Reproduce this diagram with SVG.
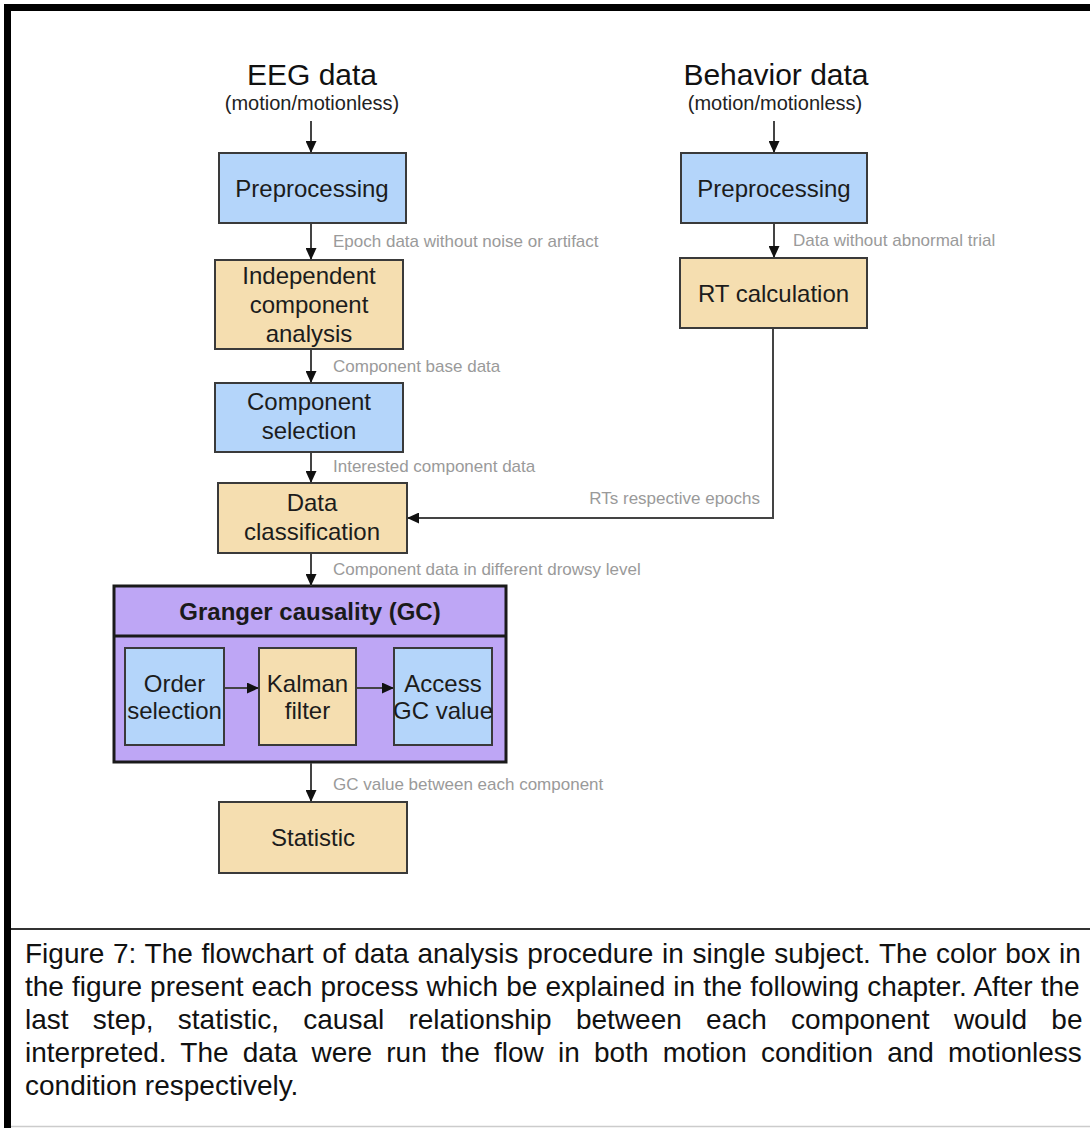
<svg xmlns="http://www.w3.org/2000/svg" width="1090" height="1128" viewBox="0 0 1090 1128">
<style>
text{font-family:"Liberation Sans",Arial,Helvetica,sans-serif}
.box{stroke:#3a3a3a;stroke-width:2}
.blue{fill:#b4d5fa}
.tan{fill:#f5deb0}
.t{font-size:24px;fill:#1c1c1c;text-anchor:middle}
.lbl{font-size:17px;fill:#9a9a9a}
.title{font-size:30px;fill:#111;text-anchor:middle}
.sub{font-size:20px;fill:#222;text-anchor:middle}
.edge{stroke:#444;stroke-width:2;fill:none}
.cap{font-size:28px;fill:#111}
</style>
<defs>
<marker id="ah" viewBox="0 0 12 11" refX="12" refY="5.5" markerWidth="12" markerHeight="11" markerUnits="userSpaceOnUse" orient="auto"><path d="M0,0 L12,5.5 L0,11 z" fill="#111"/></marker>
</defs>
<rect x="0" y="0" width="1090" height="1128" fill="#fff"/>
<!-- frame -->
<rect x="7.5" y="7.5" width="1120" height="1150" fill="none" stroke="#000" stroke-width="7"/>
<line x1="11" y1="929" x2="1090" y2="929" stroke="#333" stroke-width="2"/>
<line x1="11" y1="1126.5" x2="1090" y2="1126.5" stroke="#ccc" stroke-width="1.5"/>

<g id="eeg-title">
<text class="title" x="312" y="85">EEG data</text>
<text class="sub" x="312" y="110">(motion/motionless)</text>
</g>
<g id="behavior-title">
<text class="title" x="776" y="85">Behavior data</text>
<text class="sub" x="775" y="110">(motion/motionless)</text>
</g>

<g id="preprocessing-eeg">
<rect class="box blue" x="219" y="153" width="187" height="70"/>
<text class="t" x="312" y="196.5">Preprocessing</text>
</g>
<g id="ica">
<rect class="box tan" x="215" y="260" width="188" height="89"/>
<text class="t" x="309" y="283.5">Independent</text>
<text class="t" x="309" y="312.5">component</text>
<text class="t" x="309" y="341.5">analysis</text>
</g>
<g id="component-selection">
<rect class="box blue" x="215" y="383" width="188" height="69"/>
<text class="t" x="309" y="410">Component</text>
<text class="t" x="309" y="439">selection</text>
</g>
<g id="data-classification">
<rect class="box tan" x="218" y="483" width="189" height="70"/>
<text class="t" x="312" y="511">Data</text>
<text class="t" x="312" y="540">classification</text>
</g>
<g id="granger-causality">
<rect x="114" y="586" width="392" height="176" fill="#bea6f5" stroke="#1a1a1a" stroke-width="3"/>
<line x1="114" y1="636" x2="506" y2="636" stroke="#1a1a1a" stroke-width="3"/>
<text x="310" y="619.5" text-anchor="middle" font-size="24" font-weight="bold" fill="#1a1a1a">Granger causality (GC)</text>
</g>
<g id="order-selection">
<rect class="box blue" x="125" y="648" width="99" height="97"/>
<text class="t" x="174.5" y="691.5">Order</text>
<text class="t" x="174.5" y="718.5">selection</text>
</g>
<g id="kalman-filter">
<rect class="box tan" x="259" y="648" width="97" height="97"/>
<text class="t" x="307.5" y="691.5">Kalman</text>
<text class="t" x="307.5" y="718.5">filter</text>
</g>
<g id="access-gc">
<rect class="box blue" x="394" y="648" width="98" height="97"/>
<text class="t" x="443" y="691.5">Access</text>
<text class="t" x="443" y="718.5">GC value</text>
</g>
<g id="statistic">
<rect class="box tan" x="219" y="802" width="188" height="71"/>
<text class="t" x="313" y="846">Statistic</text>
</g>
<g id="preprocessing-behavior">
<rect class="box blue" x="681" y="153" width="186" height="70"/>
<text class="t" x="774" y="196.5">Preprocessing</text>
</g>
<g id="rt-calculation">
<rect class="box tan" x="680" y="258" width="187" height="70"/>
<text class="t" x="773.5" y="301.5">RT calculation</text>
</g>

<g id="connectors">
<line class="edge" x1="311" y1="121" x2="311" y2="153" marker-end="url(#ah)"/>
<line class="edge" x1="311" y1="224" x2="311" y2="260" marker-end="url(#ah)"/>
<line class="edge" x1="311" y1="350" x2="311" y2="383" marker-end="url(#ah)"/>
<line class="edge" x1="311" y1="453" x2="311" y2="483" marker-end="url(#ah)"/>
<line class="edge" x1="311" y1="554" x2="311" y2="586" marker-end="url(#ah)"/>
<line class="edge" x1="311" y1="763" x2="311" y2="802" marker-end="url(#ah)"/>
<line class="edge" x1="774" y1="121" x2="774" y2="153" marker-end="url(#ah)"/>
<line class="edge" x1="774" y1="224" x2="774" y2="258" marker-end="url(#ah)"/>
<polyline class="edge" points="773,329 773,518 407,518" marker-end="url(#ah)"/>
<line class="edge" x1="225" y1="688" x2="259" y2="688" stroke="#5a4f6e" marker-end="url(#ah)"/>
<line class="edge" x1="357" y1="688" x2="394" y2="688" stroke="#5a4f6e" marker-end="url(#ah)"/>
<text class="lbl" x="333" y="247">Epoch data without noise or artifact</text>
<text class="lbl" x="333" y="372">Component base data</text>
<text class="lbl" x="333" y="472">Interested component data</text>
<text class="lbl" x="760" y="504" text-anchor="end">RTs respective epochs</text>
<text class="lbl" x="333" y="575">Component data in different drowsy level</text>
<text class="lbl" x="333" y="790">GC value between each component</text>
<text class="lbl" x="793" y="246">Data without abnormal trial</text>
</g>

<g id="caption">
<text class="cap" x="25" y="963" word-spacing="0.9">Figure 7: The flowchart of data analysis procedure in single subject. The color box in</text>
<text class="cap" x="25" y="996" word-spacing="0.3">the figure present each process which be explained in the following chapter. After the</text>
<text class="cap" x="25" y="1029" word-spacing="16.5">last step, statistic, causal relationship between each component would be</text>
<text class="cap" x="25" y="1062" word-spacing="6.4">interpreted. The data were run the flow in both motion condition and motionless</text>
<text class="cap" x="25" y="1095">condition respectively.</text>
</g>
</svg>
